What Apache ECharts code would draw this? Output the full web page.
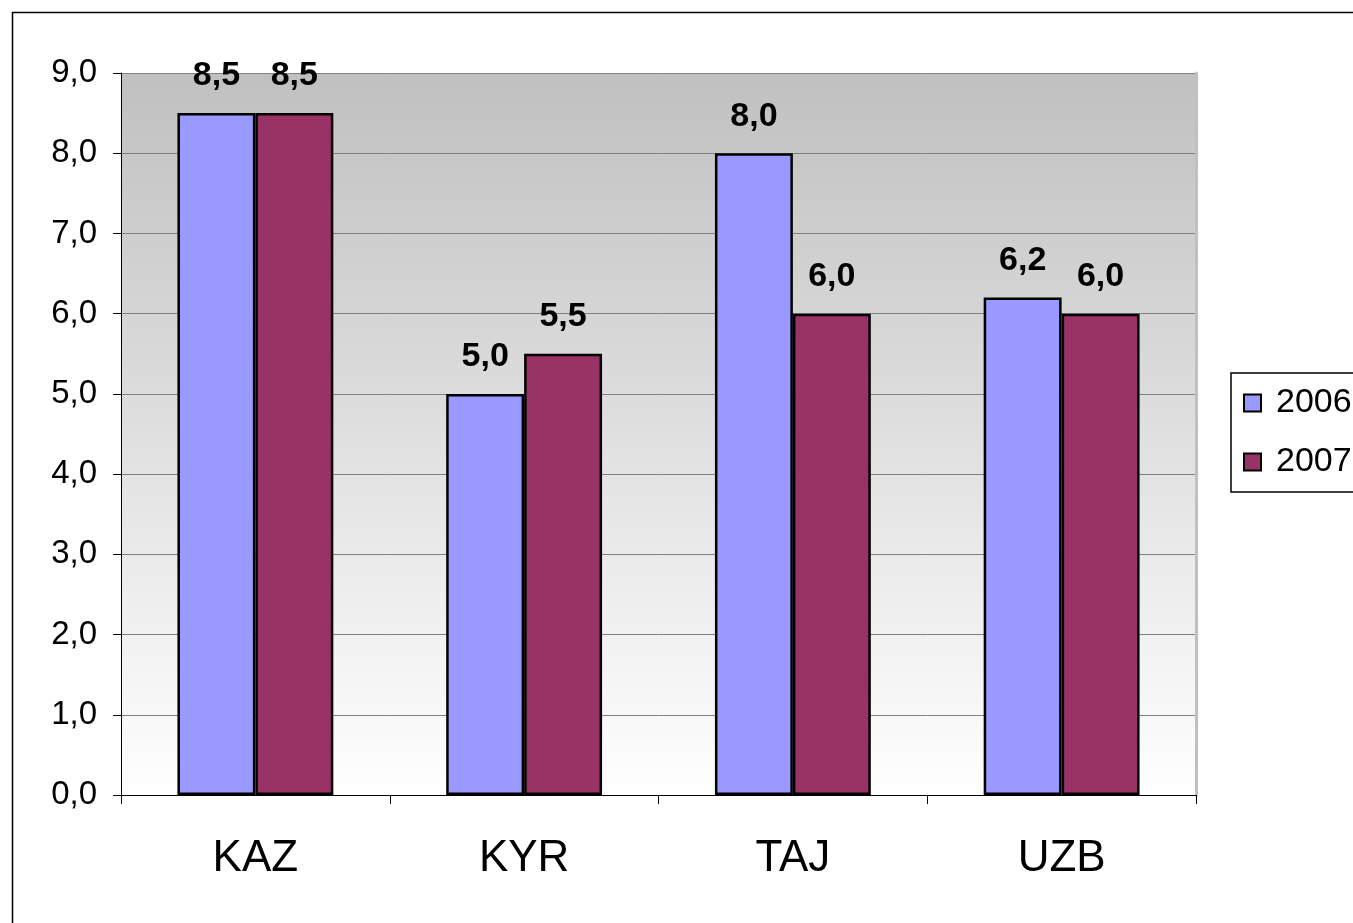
<!DOCTYPE html>
<html>
<head>
<meta charset="utf-8">
<script src="https://cdn.jsdelivr.net/npm/echarts@6/dist/echarts.min.js"></script>
<style>
  html, body { margin: 0; padding: 0; background: #fff; overflow: hidden; }
  #main { width: 1353px; height: 923px; }
</style>
</head>
<body>
<div id="main"></div>
<script>
// categories and values
var countries = ['KAZ', 'KYR', 'TAJ', 'UZB'];
var years = ['2006', '2007'];
var values2006 = [8.5, 5.0, 8.0, 6.2];
var values2007 = [8.5, 5.5, 6.0, 6.0];
var yMin = 0, yMax = 9, yStep = 1;

var font = '"Liberation Sans", Arial, sans-serif';
var comma = function (v) { return Number(v).toFixed(1).replace('.', ','); };

function barSeries(name, data, color) {
  return {
    name: name,
    type: 'bar',
    data: data,
    barGap: '0%',
    barCategoryGap: '42%',
    itemStyle: { color: color, borderColor: '#000', borderWidth: 2.5 },
    label: {
      show: true,
      position: 'top',
      distance: 20,
      fontFamily: font,
      fontWeight: 'bold',
      fontSize: 34,
      color: '#000',
      formatter: function (p) { return comma(p.value); }
    }
  };
}

var chart = echarts.init(document.getElementById('main'));
chart.setOption({
  animation: false,
  backgroundColor: '#fff',
  textStyle: { fontFamily: font },
  graphic: [{
    type: 'rect',
    left: 10, top: 10,
    shape: { width: 1400, height: 1000 },
    style: { fill: 'none', stroke: '#000', lineWidth: 1.5 },
    silent: true
  }],
  grid: {
    left: 121, right: 157, top: 73, bottom: 128,
    show: true,
    borderWidth: 0,
    backgroundColor: {
      type: 'linear', x: 0, y: 0, x2: 0, y2: 1,
      colorStops: [{ offset: 0, color: '#C0C0C0' }, { offset: 1, color: '#FFFFFF' }]
    }
  },
  legend: {
    orient: 'vertical',
    left: 1231, top: 373,
    padding: [13, 30, 13, 12],
    itemGap: 25,
    itemWidth: 17, itemHeight: 17,
    borderColor: '#000', borderWidth: 1.5,
    backgroundColor: '#fff',
    icon: 'rect',
    textStyle: { fontFamily: font, fontSize: 34, color: '#000', padding: [0, 0, 0, 10] },
    data: years
  },
  xAxis: {
    type: 'category',
    data: countries,
    axisLine: { lineStyle: { color: '#000', width: 1 } },
    axisTick: { show: true, length: 9, lineStyle: { color: '#000' } },
    axisLabel: { fontFamily: font, fontSize: 44, color: '#000', margin: 42 }
  },
  yAxis: [{
    type: 'value',
    min: yMin, max: yMax, interval: yStep,
    axisLine: { show: true, lineStyle: { color: '#000', width: 1 } },
    axisTick: { show: true, length: 8, lineStyle: { color: '#000' } },
    axisLabel: { fontFamily: font, fontSize: 33, color: '#000', margin: 24, formatter: comma },
    splitLine: { show: true, lineStyle: { color: '#808080', width: 1 } }
  }, {
    type: 'value',
    position: 'right',
    min: yMin, max: yMax, interval: yStep,
    axisLine: { show: true, lineStyle: { color: '#C0C0C0', width: 3 } },
    axisTick: { show: false },
    axisLabel: { show: false },
    splitLine: { show: false }
  }],
  series: [
    barSeries(years[0], values2006, '#9999FF'),
    barSeries(years[1], values2007, '#993366')
  ]
});
</script>
</body>
</html>
